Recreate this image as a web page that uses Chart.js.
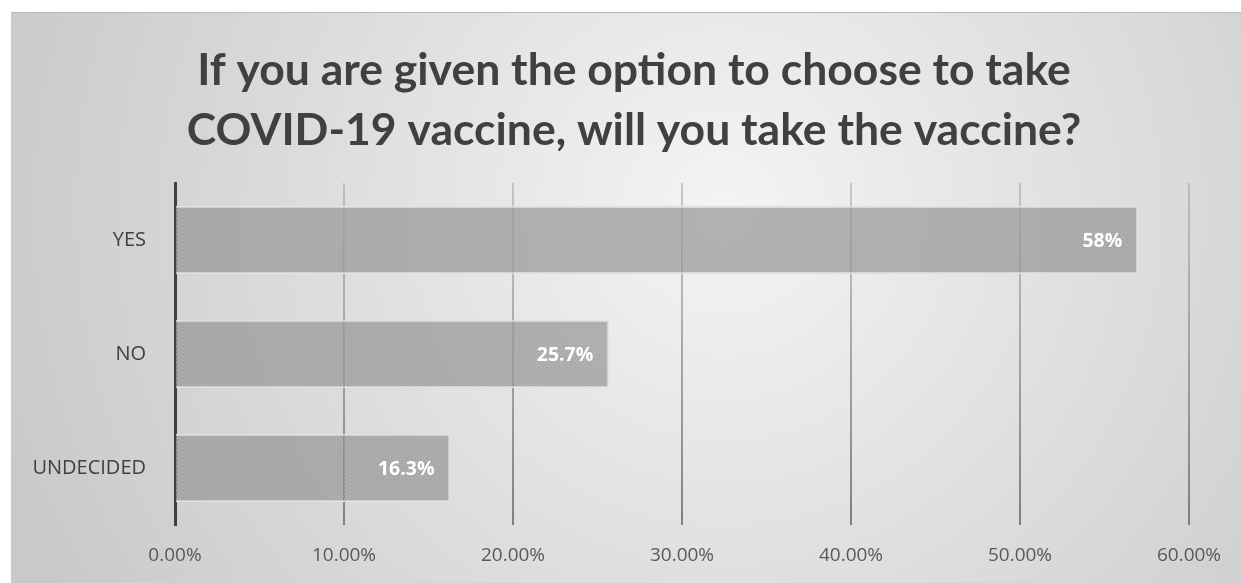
<!DOCTYPE html>
<html lang="en">
<head>
    <meta charset="UTF-8">
    <title>COVID-19 vaccine choice</title>
    <style>
        body {
            margin: 0;
            background: #ffffff;
        }
        #box {
            position: absolute;
            left: 11px;
            top: 12px;
            width: 1230px;
            height: 571px;
            border-top: 1px solid #b8b8b8;
            box-sizing: border-box;
        }
    </style>
</head>
<body>
    <div id="box"><canvas id="voteChart"></canvas></div>

    <script src="https://cdn.jsdelivr.net/npm/chart.js"></script>
    <script>
        const categories = ['YES', 'NO', 'UNDECIDED'];
        const shares = [57, 25.7, 16.3];          // bar lengths as drawn
        const shareLabels = ['58%', '25.7%', '16.3%']; // text printed on the bars
        const tickValues = [0, 10, 20, 30, 40, 50, 60];
        const titleLines = ['If you are given the option to choose to take',
                            'COVID-19 vaccine, will you take the vaccine?'];

        // dotted texture for the bars
        function makePattern() {
            const p = document.createElement('canvas');
            p.width = 4; p.height = 4;
            const c = p.getContext('2d');
            c.fillStyle = 'rgba(145,145,145,0.7)';
            c.fillRect(0, 0, 4, 4);
            c.fillStyle = 'rgba(205,205,205,0.6)';
            c.fillRect(1, 1, 1, 1);
            c.fillRect(3, 3, 1, 1);
            return c.createPattern(p, 'repeat');
        }

        const backdrop = {
            id: 'backdrop',
            beforeDraw(chart) {
                const ctx = chart.ctx;
                const w = chart.width, h = chart.height;
                const g = ctx.createRadialGradient(w * 0.58, h * 0.35, 0, w * 0.58, h * 0.35, w * 0.62);
                g.addColorStop(0, '#f4f4f4');
                g.addColorStop(1, '#c9c9c9');
                ctx.save();
                ctx.fillStyle = g;
                ctx.fillRect(0, 0, w, h);
                ctx.restore();
            }
        };

        // title drawn by hand: it sits a little right of the canvas centre
        const heading = {
            id: 'heading',
            afterDraw(chart) {
                const ctx = chart.ctx;
                ctx.save();
                ctx.fillStyle = '#404040';
                ctx.font = 'bold 44.5px Lato';
                ctx.textAlign = 'center';
                ctx.textBaseline = 'middle';
                titleLines.forEach((line, i) => {
                    ctx.fillText(line, 623, 58 + i * 60);
                });
                ctx.restore();
            }
        };

        const barText = {
            id: 'barText',
            afterDatasetsDraw(chart) {
                const ctx = chart.ctx;
                const meta = chart.getDatasetMeta(0);
                ctx.save();
                ctx.fillStyle = '#ffffff';
                ctx.font = 'bold 19.5px "Open Sans"';
                ctx.textAlign = 'right';
                ctx.textBaseline = 'middle';
                meta.data.forEach((bar, i) => {
                    ctx.fillText(shareLabels[i], bar.x - 16, bar.y + 1);
                });
                ctx.restore();
            }
        };

        function gridColor(context) {
            const area = context.chart.chartArea;
            if (!area) return '#a0a0a0';
            const g = context.chart.ctx.createLinearGradient(0, area.top, 0, area.bottom);
            g.addColorStop(0, 'rgba(160,160,160,0.5)');
            g.addColorStop(1, 'rgba(110,110,110,0.85)');
            return g;
        }

        const ctx = document.getElementById('voteChart').getContext('2d');
        new Chart(ctx, {
            type: 'bar',
            data: {
                labels: categories,
                datasets: [{
                    data: shares,
                    backgroundColor: makePattern(),
                    borderColor: 'rgba(225,225,225,0.9)',
                    borderWidth: 2,
                    borderSkipped: 'left',
                    barPercentage: 0.6,
                    categoryPercentage: 1
                }]
            },
            options: {
                indexAxis: 'y',
                responsive: true,
                maintainAspectRatio: false,
                animation: false,
                layout: {
                    padding: { left: 0, right: 52, top: 170, bottom: 0 }
                },
                plugins: {
                    legend: { display: false },
                    tooltip: { enabled: false },
                    title: { display: false }
                },
                scales: {
                    x: {
                        min: 0,
                        max: 60,
                        afterBuildTicks(axis) {
                            axis.ticks = tickValues.map(v => ({ value: v }));
                        },
                        afterFit(axis) { axis.height = 58; },
                        grid: {
                            color: gridColor,
                            lineWidth: 2,
                            drawTicks: false
                        },
                        border: { display: false },
                        ticks: {
                            color: '#595959',
                            font: { family: 'Open Sans', size: 19 },
                            padding: 19,
                            callback: v => v.toFixed(2) + '%'
                        }
                    },
                    y: {
                        afterFit(axis) { axis.width = 164; },
                        grid: { display: false },
                        border: { color: '#404040', width: 3 },
                        ticks: {
                            color: '#404040',
                            font: { family: 'Open Sans', size: 20 },
                            padding: 21
                        }
                    }
                }
            },
            plugins: [backdrop, barText, heading]
        });
    </script>
</body>
</html>
